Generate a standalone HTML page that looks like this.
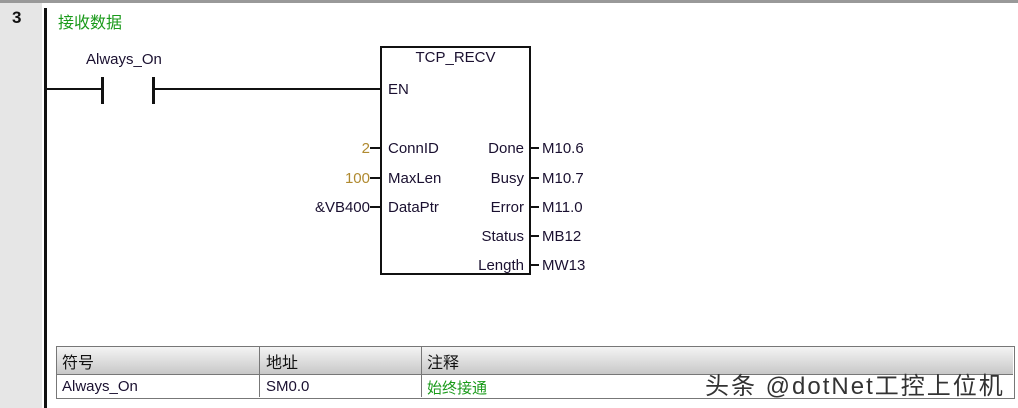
<!DOCTYPE html>
<html><head><meta charset="utf-8"><style>
body{margin:0;width:1018px;height:408px;background:#fff;position:relative;overflow:hidden;font-family:"Liberation Sans","Noto Sans CJK SC",sans-serif;}
.a{position:absolute;white-space:nowrap;}
.t{font-size:15px;color:#1a1030;}
.l{position:absolute;background:#111;}
</style></head><body>
<div class="a" style="left:0;top:0;width:1018px;height:3px;background:#999"></div>
<div class="a" style="left:0;top:3px;width:42px;height:405px;background:#e6e6e6"></div>
<div class="a" style="left:12px;top:8px;font-size:17px;font-weight:bold;color:#111">3</div>
<div class="l" style="left:44px;top:8px;width:3px;height:400px"></div>
<div class="a" style="left:58px;top:9px;font-size:16px;color:#1a9a1a">接收数据</div>
<div class="a t" style="left:86px;top:51px">Always_On</div>
<div class="l" style="left:46px;top:88px;width:56px;height:2px"></div>
<div class="l" style="left:101px;top:77px;width:3px;height:27px"></div>
<div class="l" style="left:152px;top:77px;width:3px;height:27px"></div>
<div class="l" style="left:154px;top:88px;width:226px;height:2px"></div>
<div class="a" style="left:380px;top:46px;width:147px;height:225px;border:2px solid #111"></div>
<div class="a t" style="left:380px;top:49px;width:151px;text-align:center">TCP_RECV</div>
<div class="a t" style="left:388px;top:81px">EN</div>
<div class="a t" style="left:388px;top:140px">ConnID</div>
<div class="a t" style="left:388px;top:170px">MaxLen</div>
<div class="a t" style="left:388px;top:199px">DataPtr</div>
<div class="a t" style="right:494px;top:140px">Done</div>
<div class="a t" style="right:494px;top:170px">Busy</div>
<div class="a t" style="right:494px;top:199px">Error</div>
<div class="a t" style="right:494px;top:228px">Status</div>
<div class="a t" style="right:494px;top:257px">Length</div>
<div class="a t" style="right:648px;top:140px;color:#b08a30">2</div>
<div class="a t" style="right:648px;top:170px;color:#b08a30">100</div>
<div class="a t" style="right:648px;top:199px">&amp;VB400</div>
<div class="l" style="left:370px;top:147px;width:10px;height:2px"></div>
<div class="l" style="left:370px;top:177px;width:10px;height:2px"></div>
<div class="l" style="left:370px;top:206px;width:10px;height:2px"></div>
<div class="l" style="left:529px;top:147px;width:10px;height:2px"></div>
<div class="l" style="left:529px;top:177px;width:10px;height:2px"></div>
<div class="l" style="left:529px;top:206px;width:10px;height:2px"></div>
<div class="l" style="left:529px;top:235px;width:10px;height:2px"></div>
<div class="l" style="left:529px;top:264px;width:10px;height:2px"></div>
<div class="a t" style="left:542px;top:140px">M10.6</div>
<div class="a t" style="left:542px;top:170px">M10.7</div>
<div class="a t" style="left:542px;top:199px">M11.0</div>
<div class="a t" style="left:542px;top:228px">MB12</div>
<div class="a t" style="left:542px;top:257px">MW13</div>
<div class="a" style="left:56px;top:346px;width:957px;height:51px;border:1px solid #777"></div>
<div class="a" style="left:57px;top:347px;width:956px;height:27px;background:linear-gradient(#f4f4f4,#c8c8c8)"></div>
<div class="a" style="left:57px;top:374px;width:956px;height:1px;background:#777"></div>
<div class="a" style="left:259px;top:347px;width:1px;height:50px;background:#777"></div>
<div class="a" style="left:421px;top:347px;width:1px;height:50px;background:#777"></div>
<div class="a" style="left:62px;top:349px;font-size:16px;color:#111">符号</div>
<div class="a" style="left:266px;top:349px;font-size:16px;color:#111">地址</div>
<div class="a" style="left:427px;top:349px;font-size:16px;color:#111">注释</div>
<div class="a t" style="left:62px;top:378px">Always_On</div>
<div class="a t" style="left:266px;top:378px">SM0.0</div>
<div class="a" style="left:427px;top:377px;font-size:15px;color:#1a9a1a">始终接通</div>
<div class="a" style="left:705px;top:366px;font-size:24px;letter-spacing:2px;color:#333">头条 @dotNet工控上位机</div>
</body></html>
